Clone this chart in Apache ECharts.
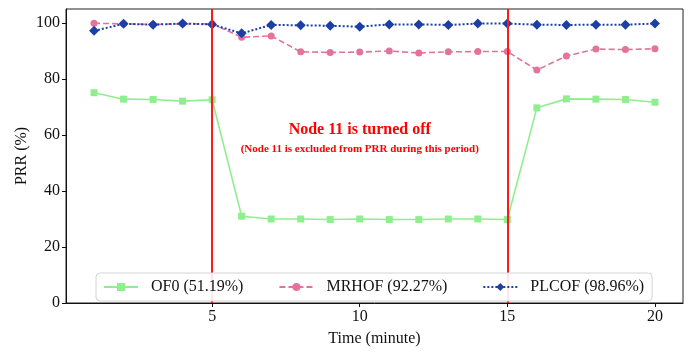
<!DOCTYPE html>
<html>
<head>
<meta charset="utf-8">
<script src="https://cdn.jsdelivr.net/npm/echarts@6/dist/echarts.min.js"></script>
<style>
  html, body { margin: 0; padding: 0; background: #fff; }
  #chart { width: 690px; height: 352px; }
</style>
</head>
<body>
<div id="chart"></div>
<script>
const minutes = [1, 2, 3, 4, 5, 6, 7, 8, 9, 10, 11, 12, 13, 14, 15, 16, 17, 18, 19, 20]
const of0 = [75.1, 72.8, 72.7, 72.1, 72.6, 31.0, 30.0, 30.0, 29.8, 30.0, 29.8, 29.8, 30.0, 30.0, 29.8, 69.7, 72.9, 72.8, 72.7, 71.7]
const mrhof = [99.9, 99.7, 99.5, 99.7, 99.7, 94.9, 95.4, 89.7, 89.5, 89.6, 90.0, 89.3, 89.7, 89.8, 89.8, 83.2, 88.2, 90.7, 90.5, 90.8]
const plcof = [97.2, 99.7, 99.4, 99.8, 99.5, 96.3, 99.3, 99.2, 99.0, 98.7, 99.5, 99.5, 99.3, 99.8, 99.8, 99.4, 99.3, 99.4, 99.4, 99.8]
const legendNames = ['OF0 (51.19%)', 'MRHOF (92.27%)', 'PLCOF (98.96%)']
const xTicks = [5, 10, 15, 20]
const yTicks = [0, 20, 40, 60, 80, 100]
const offMarks = [5, 15]

const font = 'Liberation Serif'
const pairs = arr => minutes.map((m, i) => [m, arr[i]])

let myChart = echarts.init(document.getElementById('chart'))

let option = {
    backgroundColor: '#fff',
    animation: false,
    textStyle: { fontFamily: font },
    grid: { left: 66, right: 7, top: 9, bottom: 43, show: true, borderColor: '#222', borderWidth: 1 },
    legend: {
        left: 96, top: 273, z: 30,
        padding: [6, 8, 6, 7],
        itemGap: 35,
        itemWidth: 34, itemHeight: 10,
        borderColor: '#d4d4d4', borderWidth: 1, borderRadius: 4,
        backgroundColor: 'rgba(255,255,255,0.9)',
        textStyle: { fontFamily: font, fontSize: 16, color: '#111', padding: [0, 0, 0, 8] },
        data: legendNames
    },
    xAxis: {
        type: 'value', min: 0.05, max: 20.95,
        name: 'Time (minute)', nameLocation: 'middle', nameGap: 28, nameMoveOverlap: false,
        nameTextStyle: { fontFamily: font, fontSize: 16, color: '#111' },
        axisLine: { onZero: false, lineStyle: { color: '#111', width: 1 } },
        axisTick: { inside: false, length: 4, customValues: xTicks, lineStyle: { color: '#111' } },
        axisLabel: { customValues: xTicks, fontFamily: font, fontSize: 16, color: '#111', margin: 6 },
        splitLine: { show: false }
    },
    yAxis: {
        type: 'value', min: 0, max: 105,
        name: 'PRR (%)', nameLocation: 'middle', nameGap: 36, nameMoveOverlap: false,
        nameTextStyle: { fontFamily: font, fontSize: 16, color: '#111' },
        axisLine: { show: true, lineStyle: { color: '#111', width: 1 } },
        axisTick: { show: true, length: 4, customValues: yTicks, lineStyle: { color: '#111' } },
        axisLabel: { customValues: yTicks, fontFamily: font, fontSize: 16, color: '#111', margin: 6 },
        splitLine: { show: false }
    },
    series: [
        {
            name: legendNames[0], type: 'line', data: pairs(of0),
            symbol: 'rect', symbolSize: 7,
            color: '#90ee90',
            lineStyle: { width: 1.6, type: 'solid' },
            itemStyle: { color: '#90ee90' }
        },
        {
            name: legendNames[1], type: 'line', data: pairs(mrhof),
            symbol: 'circle', symbolSize: 7,
            color: '#e4739c',
            lineStyle: { width: 1.6, type: [6, 3] },
            itemStyle: { color: '#e4739c' }
        },
        {
            name: legendNames[2], type: 'line', data: pairs(plcof),
            symbol: 'diamond', symbolSize: 10,
            color: '#1c3fa4',
            lineStyle: { width: 2, type: [2, 2] },
            itemStyle: { color: '#1c3fa4' }
        },
        {
            type: 'line', data: [], z: 10, silent: true,
            markLine: {
                silent: true, symbol: 'none', animation: false,
                label: { show: false },
                lineStyle: { color: '#ff1a1a', width: 2, type: 'solid' },
                data: offMarks.map(v => ({ xAxis: v }))
            }
        }
    ]
}
myChart.setOption(option)

// annotation placed in data coordinates
const p1 = myChart.convertToPixel({ gridIndex: 0 }, [10, 62.0])
const p2 = myChart.convertToPixel({ gridIndex: 0 }, [10, 55.0])
myChart.setOption({
    graphic: [
        { type: 'text', x: p1[0], y: p1[1], z: 20,
          style: { text: 'Node 11 is turned off', fill: '#ff0000', font: 'bold 16px "Liberation Serif"', align: 'center', verticalAlign: 'middle' } },
        { type: 'text', x: p2[0], y: p2[1], z: 20,
          style: { text: '(Node 11 is excluded from PRR during this period)', fill: '#ff0000', font: 'bold 11px "Liberation Serif"', align: 'center', verticalAlign: 'middle' } }
    ]
})
</script>
</body>
</html>
